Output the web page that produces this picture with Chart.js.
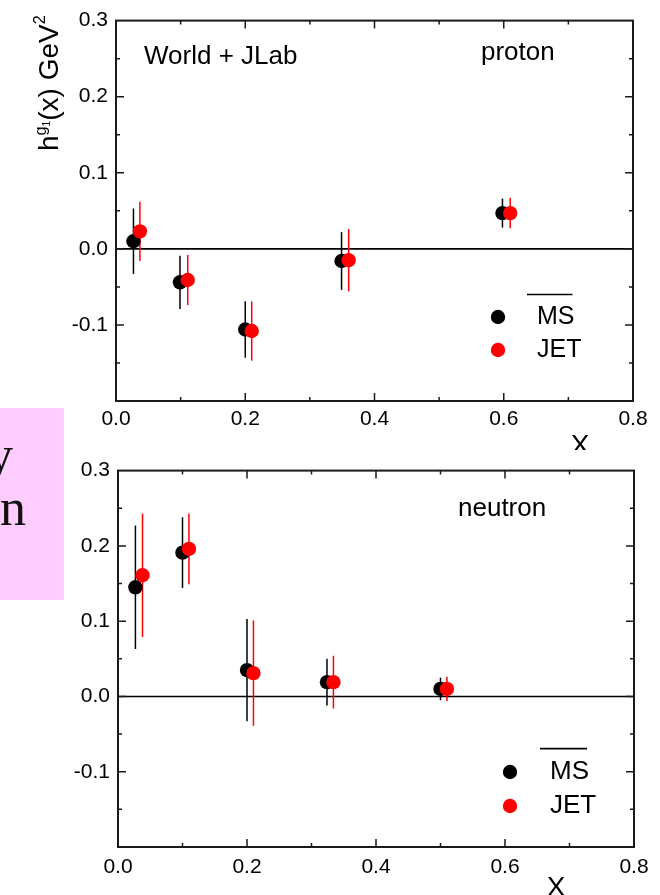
<!DOCTYPE html>
<html>
<head>
<meta charset="utf-8">
<script src="https://cdn.jsdelivr.net/npm/chart.js@4/dist/chart.umd.min.js"></script>
<style>
  html, body { margin: 0; padding: 0; background: #fff; }
  body { position: relative; width: 660px; height: 895px; overflow: hidden; }
  #note {
    position: absolute; left: 0; top: 408px; width: 64px; height: 192px;
    background: #ffccff; overflow: hidden;
    font-family: "Liberation Serif", "Times New Roman", serif;
    font-size: 52px; line-height: 1; color: #111;
  }
  #note span { position: absolute; }
  canvas { position: absolute; left: 0; }
  #protonChart { top: 0; }
  #neutronChart { top: 450px; }
</style>
</head>
<body>
<div id="note"><span style="left:-13px;top:21px">y</span><span style="left:0;top:74px">n</span></div>
<canvas id="protonChart" width="660" height="450"></canvas>
<canvas id="neutronChart" width="660" height="445"></canvas>
<script>
// ---- data: h^{g1}(x) in GeV^2 versus x ----
const seriesLabels = ['MS', 'JET'];
const seriesColors = ['#000000', '#ff0000'];

// proton
const protonX_MS   = [0.027, 0.099, 0.200, 0.349, 0.598];
const protonY_MS   = [0.010, -0.044, -0.106, -0.016, 0.047];
const protonErr_MS = [0.043, 0.035, 0.037, 0.038, 0.019];
const protonX_JET   = [0.037, 0.111, 0.210, 0.360, 0.610];
const protonY_JET   = [0.023, -0.041, -0.108, -0.015, 0.047];
const protonErr_JET = [0.039, 0.033, 0.039, 0.041, 0.020];

// neutron
const neutronX_MS   = [0.027, 0.100, 0.200, 0.324, 0.500];
const neutronY_MS   = [0.145, 0.191, 0.035, 0.019, 0.010];
const neutronErr_MS = [0.082, 0.047, 0.068, 0.031, 0.015];
const neutronX_JET   = [0.038, 0.110, 0.210, 0.334, 0.510];
const neutronY_JET   = [0.161, 0.196, 0.031, 0.019, 0.010];
const neutronErr_JET = [0.082, 0.047, 0.070, 0.035, 0.016];

// axes
const xTickValues = [0, 0.2, 0.4, 0.6, 0.8];
const xTickLabels = ['0.0', '0.2', '0.4', '0.6', '0.8'];
const yTickValues = [-0.2, -0.1, 0, 0.1, 0.2, 0.3];
const yTickLabels = ['', '-0.1', '0.0', '0.1', '0.2', '0.3'];

const FONT = '"Liberation Sans", Arial, Helvetica, sans-serif';
Chart.defaults.font.family = FONT;
Chart.defaults.color = '#000';

// frame, inward ticks, zero line, error bars, annotations and legend
function decor(cfg) {
  return {
    id: 'panelDecor',
    beforeDatasetsDraw(chart) {
      const { ctx, chartArea: a, scales: { x, y } } = chart;
      ctx.save();
      // y = 0 reference line
      const y0 = y.getPixelForValue(0);
      ctx.strokeStyle = '#000';
      ctx.lineWidth = 1.6;
      ctx.beginPath();
      ctx.moveTo(a.left, y0);
      ctx.lineTo(a.right, y0);
      ctx.stroke();
      // vertical error bars
      chart.data.datasets.forEach(ds => {
        ctx.strokeStyle = ds.backgroundColor;
        ctx.lineWidth = 1.5;
        ds.data.forEach((p, i) => {
          const px = x.getPixelForValue(p.x);
          ctx.beginPath();
          ctx.moveTo(px, y.getPixelForValue(p.y + ds.errors[i]));
          ctx.lineTo(px, y.getPixelForValue(p.y - ds.errors[i]));
          ctx.stroke();
        });
      });
      ctx.restore();
    },
    afterDraw(chart) {
      const { ctx, chartArea: a, scales: { x, y } } = chart;
      ctx.save();
      // frame
      ctx.strokeStyle = '#1a1a1a';
      ctx.lineWidth = 2;
      ctx.strokeRect(a.left, a.top, a.right - a.left, a.bottom - a.top);
      // inward ticks on all four sides
      ctx.lineWidth = 1.5;
      ctx.beginPath();
      for (let i = 1; i < 8; i++) {
        const px = x.getPixelForValue(i / 10);
        const len = i % 2 === 0 ? 8 : 4;
        ctx.moveTo(px, a.bottom); ctx.lineTo(px, a.bottom - len);
        ctx.moveTo(px, a.top); ctx.lineTo(px, a.top + len);
      }
      for (let i = -3; i < 6; i++) {
        const py = y.getPixelForValue(i * 0.05);
        const len = i % 2 === 0 ? 8 : 4;
        ctx.moveTo(a.left, py); ctx.lineTo(a.left + len, py);
        ctx.moveTo(a.right, py); ctx.lineTo(a.right - len, py);
      }
      ctx.stroke();

      // annotations
      ctx.fillStyle = '#000';
      ctx.textBaseline = 'alphabetic';
      ctx.textAlign = 'left';
      cfg.texts.forEach(t => {
        ctx.font = t.size + 'px ' + FONT;
        ctx.fillText(t.text, t.x, t.y);
      });

      // x axis title
      ctx.font = cfg.xTitle.size + 'px ' + FONT;
      ctx.textAlign = 'center';
      ctx.fillText(cfg.xTitle.text, cfg.xTitle.x, cfg.xTitle.y);
      ctx.textAlign = 'left';

      // y axis title: h^{g1}(x) GeV^2
      if (cfg.yTitle) {
        const t = cfg.yTitle;
        ctx.save();
        ctx.translate(t.x, t.y);
        ctx.rotate(-Math.PI / 2);
        let cx = 0;
        const seg = (s, size, dy) => {
          ctx.font = size + 'px ' + FONT;
          ctx.fillText(s, cx, dy);
          cx += ctx.measureText(s).width;
        };
        seg('h', t.size, 0);
        seg('g', t.size * 0.58, -t.size * 0.42);
        seg('1', t.size * 0.36, -t.size * 0.28);
        seg('(x) GeV', t.size, 0);
        seg('2', t.size * 0.58, -t.size * 0.45);
        ctx.restore();
      }

      // legend
      const lg = cfg.legend;
      seriesLabels.forEach((label, k) => {
        const ds = chart.data.datasets.find(d => d.label === label);
        const ry = lg.rows[k];
        ctx.fillStyle = ds.backgroundColor;
        ctx.beginPath();
        ctx.arc(lg.markerX, ry, 7.2, 0, Math.PI * 2);
        ctx.fill();
        ctx.fillStyle = '#000';
        ctx.font = lg.size + 'px ' + FONT;
        ctx.textBaseline = 'middle';
        ctx.fillText(label, lg.textX, ry);
        if (k === 0) {
          // overline on MS
          const w = ctx.measureText(label).width;
          ctx.strokeStyle = '#000';
          ctx.lineWidth = 1.6;
          ctx.beginPath();
          ctx.moveTo(lg.textX - 10, ry - lg.size * 0.9);
          ctx.lineTo(lg.textX + w - 2, ry - lg.size * 0.9);
          ctx.stroke();
        }
      });
      ctx.restore();
    }
  };
}

function makePanel(canvasId, xsList, ysList, errList, geom, cfg) {
  const datasets = seriesLabels.map((label, k) => ({
    label,
    data: xsList[k].map((xv, i) => ({ x: xv, y: ysList[k][i] })),
    errors: errList[k],
    backgroundColor: seriesColors[k],
    borderWidth: 0,
    pointRadius: 7.2,
    pointHoverRadius: 7.2,
    order: seriesLabels.length - k
  }));
  return new Chart(document.getElementById(canvasId), {
    type: 'scatter',
    data: { datasets },
    options: {
      responsive: false,
      animation: false,
      devicePixelRatio: 1,
      events: [],
      layout: { padding: { top: geom.top, right: geom.right, bottom: 0, left: 0 } },
      plugins: { legend: { display: false }, tooltip: { enabled: false } },
      scales: {
        x: {
          type: 'linear', min: 0, max: 0.8,
          afterBuildTicks: s => { s.ticks = xTickValues.map(v => ({ value: v })); },
          afterFit: s => { s.height = geom.xHeight; },
          ticks: {
            autoSkip: false, maxRotation: 0, padding: geom.xPad,
            font: { size: 21 }, color: '#000',
            callback: (v, i) => xTickLabels[i]
          },
          grid: { display: false, drawTicks: false },
          border: { display: false }
        },
        y: {
          type: 'linear', min: -0.2, max: 0.3,
          afterBuildTicks: s => { s.ticks = yTickValues.map(v => ({ value: v })); },
          afterFit: s => { s.width = geom.yWidth; },
          ticks: {
            autoSkip: false, padding: 8,
            font: { size: 21 }, color: '#000',
            callback: (v, i) => yTickLabels[i]
          },
          grid: { display: false, drawTicks: false },
          border: { display: false }
        }
      }
    },
    plugins: [decor(cfg)]
  });
}

makePanel('protonChart',
  [protonX_MS, protonX_JET], [protonY_MS, protonY_JET], [protonErr_MS, protonErr_JET],
  { top: 15, right: 27, xHeight: 49, yWidth: 116, xPad: 6 },
  {
    texts: [
      { text: 'World + JLab', x: 144, y: 64, size: 26 },
      { text: 'proton', x: 481, y: 60, size: 26 }
    ],
    xTitle: { text: 'X', x: 580, y: 454, size: 28 },
    yTitle: { x: 58, y: 151, size: 28 },
    legend: { markerX: 498, textX: 537, rows: [317, 350], size: 25 }
  });

makePanel('neutronChart',
  [neutronX_MS, neutronX_JET], [neutronY_MS, neutronY_JET], [neutronErr_MS, neutronErr_JET],
  { top: 13, right: 26, xHeight: 48, yWidth: 118, xPad: 8 },
  {
    texts: [
      { text: 'neutron', x: 458, y: 66, size: 26 }
    ],
    xTitle: { text: 'X', x: 556, y: 446, size: 28 },
    yTitle: null,
    legend: { markerX: 510, textX: 550, rows: [322, 356], size: 26 }
  });
</script>
</body>
</html>
